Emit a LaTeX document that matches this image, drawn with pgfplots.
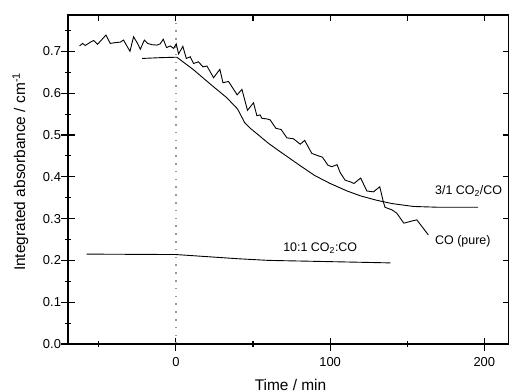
\documentclass[border=0pt]{standalone}
\usepackage{fontspec}
\setmainfont{Liberation Sans}
\usepackage{pgfplots}
\pgfplotsset{compat=1.18}
\begin{document}
\begin{tikzpicture}
\useasboundingbox (-68bp,-48bp) rectangle (441bp,344bp);
\pgfplotsset{
  common/.style={
    at={(0,0)}, anchor=south west,
    scale only axis, width=441bp, height=329bp,
    xmin=-70, xmax=216, ymin=0, ymax=0.787,
    axis line style={line width=1.1bp},
    tick style={line width=1.1bp, black},
  }
}
\begin{axis}[
  common,
  xtick={0,100,200}, minor xtick={-50,50,150},
  ytick={0,0.1,0.2,0.3,0.4,0.5,0.6,0.7},
  minor ytick={0.05,0.15,0.25,0.35,0.45,0.55,0.65,0.75},
  xtick pos=bottom, ytick pos=left,
  tick align=center,
  major tick length=13bp, minor tick length=6bp,
  /pgf/number format/assume math mode=true,
  yticklabel style={/pgf/number format/fixed, /pgf/number format/fixed zerofill, /pgf/number format/precision=1, xshift=3bp},
  xticklabel style={yshift=-3bp},
  ticklabel style={font=\fontsize{13}{15}\selectfont},
  xlabel={Time / min},
  ylabel={Integrated absorbance / cm\textsuperscript{-1}},
  label style={font=\fontsize{15.5}{18}\selectfont},
  xlabel style={at={(axis description cs:0.5,0)}, anchor=base, yshift=-46bp, xshift=2bp},
  ylabel style={at={(axis description cs:-0.0975,0.523)}, anchor=base},
]
\addplot[gray!80, line width=1.6bp, dash pattern=on 1.6bp off 6.2bp] coordinates {(0,0) (0,0.787)};
% CO (pure)
\addplot[black, line width=0.9bp] coordinates {
(-62.5,0.713) (-60.5,0.719) (-58.8,0.714) (-55.5,0.722) (-53.4,0.726) (-50.8,0.717)
(-48.6,0.726) (-45.4,0.739) (-42.6,0.719) (-39.3,0.721) (-36.1,0.722) (-34,0.727)
(-29.8,0.700) (-27.5,0.735) (-24.9,0.719) (-23.1,0.705) (-20.5,0.727) (-18.4,0.719)
(-15.6,0.716) (-12.3,0.715) (-10.2,0.718) (-8.2,0.729) (-6.1,0.709) (-3.7,0.713)
(-1.5,0.707) (0.2,0.718) (1.7,0.694) (4.5,0.712) (6.7,0.683) (9.3,0.687)
(11.4,0.671) (14.6,0.675) (17.5,0.663) (20.1,0.665) (24.4,0.637) (28.5,0.657)
(30.5,0.625) (34.1,0.628) (39.7,0.596) (42.8,0.609) (46.4,0.559) (50.3,0.577)
(52.5,0.546) (54.6,0.548) (55.7,0.540) (59.5,0.538) (61.1,0.536) (64.8,0.516)
(68.2,0.513) (72,0.493) (76.2,0.491) (80.6,0.478) (83.5,0.487) (88.1,0.456)
(92.4,0.450) (95,0.447) (98.5,0.428) (101,0.424) (104.5,0.429) (106.5,0.410)
(109.7,0.392) (113,0.388) (115.5,0.384) (119.8,0.397) (123.8,0.366) (128.1,0.364)
(132.2,0.376) (134.5,0.340) (135.6,0.327) (140,0.321) (143.2,0.313) (147.8,0.289)
(151.8,0.293) (156.2,0.297) (163.7,0.261)
};
% 3/1 CO2/CO
\addplot[black, line width=0.9bp] coordinates {
(-22,0.683) (-10,0.685) (0.6,0.686) (11.4,0.656) (22.2,0.622) (33,0.589) (40,0.562)
(44.5,0.530) (48.2,0.516) (53.5,0.500) (60,0.480) (67.6,0.460) (80,0.428) (90,0.403)
(100,0.384) (111,0.366) (120,0.354) (130,0.344) (140,0.336) (154,0.329) (171,0.327) (196,0.327)
};
% 10:1 CO2:CO
\addplot[black, line width=0.9bp] coordinates {
(-58,0.215) (0,0.214) (20,0.209) (40,0.204) (60,0.200) (100,0.197) (139,0.194)
};
\node[anchor=west, font=\fontsize{12.5}{14}\selectfont, inner sep=0pt] at (axis cs:168,0.366) {3/1 CO\textsubscript{2}/CO};
\node[anchor=west, font=\fontsize{12.5}{14}\selectfont, inner sep=0pt] at (axis cs:168,0.245) {CO (pure)};
\node[anchor=west, font=\fontsize{12.5}{14}\selectfont, inner sep=0pt] at (axis cs:69.5,0.230) {10:1 CO\textsubscript{2}:CO};
\end{axis}
\begin{axis}[
  common,
  xtick={-50,0,50,100,150,200},
  ytick={0.1,0.2,0.3,0.4,0.5,0.6,0.7},
  xtick pos=top, ytick pos=right,
  tick align=inside,
  major tick length=6.5bp,
  xticklabels={}, yticklabels={},
]
\end{axis}
\end{tikzpicture}
\end{document}
